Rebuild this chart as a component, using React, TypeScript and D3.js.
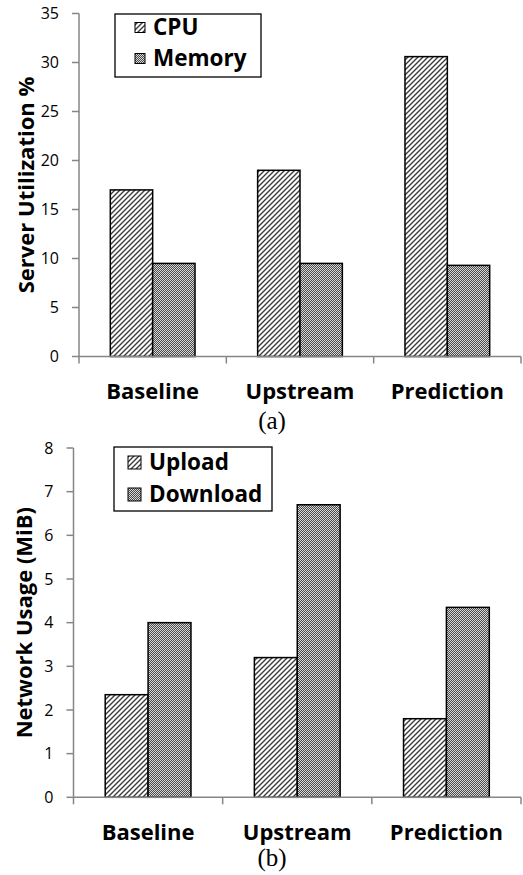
import React, { useEffect, useRef } from "react";
import * as d3 from "d3";

const categories = ["Baseline", "Upstream", "Prediction"];

// (a) server utilization
const cpu = [17, 19, 30.6];
const memory = [9.5, 9.5, 9.3];
const utilTicks = [0, 5, 10, 15, 20, 25, 30, 35];

// (b) network usage
const upload = [2.35, 3.2, 1.8];
const download = [4.0, 6.7, 4.35];
const netTicks = [0, 1, 2, 3, 4, 5, 6, 7, 8];

const width = 523;
const height = 875;
const font = "'Open Sans', sans-serif";
const axisGray = "#868686";

type Panel = {
  names: string[];
  series: number[][];
  ticks: number[];
  title: string;
  caption: string;
  x0: number;
  x1: number;
  yTop: number;
  yBottom: number;
  titleX: number;
  legend: { x: number; y: number; w: number; h: number; swatch: number; textX: number; rows: number[] };
  captionY: number;
};

const panels: Panel[] = [
  {
    names: ["CPU", "Memory"],
    series: [cpu, memory],
    ticks: utilTicks,
    title: "Server Utilization %",
    caption: "(a)",
    x0: 79,
    x1: 521,
    yTop: 13.5,
    yBottom: 356.5,
    titleX: 26,
    legend: { x: 115, y: 14, w: 146, h: 63, swatch: 10, textX: 153, rows: [35, 66] },
    captionY: 429,
  },
  {
    names: ["Upload", "Download"],
    series: [upload, download],
    ticks: netTicks,
    title: "Network Usage (MiB)",
    caption: "(b)",
    x0: 73.5,
    x1: 521,
    yTop: 448,
    yBottom: 797.3,
    titleX: 24,
    legend: { x: 114, y: 447, w: 158, h: 64, swatch: 13, textX: 149, rows: [470, 502] },
    captionY: 866,
  },
];

const fills = ["url(#stripes)", "url(#checker)"];

function drawPanel(svg: d3.Selection<SVGSVGElement, unknown, null, undefined>, p: Panel) {
  const yMax = p.ticks[p.ticks.length - 1];
  const y = d3.scaleLinear([0, yMax], [p.yBottom, p.yTop]);
  const x = d3
    .scaleBand<string>()
    .domain(categories)
    .range([p.x0, p.x1])
    .paddingInner(0.425)
    .paddingOuter(0.2125);
  const sub = d3
    .scaleBand<number>()
    .domain(p.series.map((_, i) => i))
    .range([0, x.bandwidth()]);

  const g = svg.append("g");

  // bars
  p.series.forEach((vals, si) => {
    g.append("g")
      .selectAll("rect")
      .data(vals)
      .join("rect")
      .attr("x", (_, i) => x(categories[i])! + sub(si)!)
      .attr("y", (d) => y(d))
      .attr("width", sub.bandwidth())
      .attr("height", (d) => y(0) - y(d))
      .attr("fill", fills[si])
      .attr("stroke", "#000")
      .attr("stroke-width", 1.5);
  });

  // y axis
  g.append("line")
    .attr("x1", p.x0)
    .attr("x2", p.x0)
    .attr("y1", y(yMax))
    .attr("y2", y(0))
    .attr("stroke", axisGray)
    .attr("stroke-width", 1.5);
  g.selectAll(".ytick")
    .data(p.ticks)
    .join("line")
    .attr("x1", p.x0 - 7)
    .attr("x2", p.x0)
    .attr("y1", (d) => y(d))
    .attr("y2", (d) => y(d))
    .attr("stroke", axisGray)
    .attr("stroke-width", 1.5);
  g.selectAll(".ylabel")
    .data(p.ticks)
    .join("text")
    .attr("x", p.x0 - 20)
    .attr("y", (d) => y(d))
    .attr("dy", "0.36em")
    .attr("text-anchor", "end")
    .attr("font-family", font)
    .attr("font-size", 16)
    .attr("fill", "#000")
    .text((d) => d);

  // x axis
  g.append("line")
    .attr("x1", p.x0)
    .attr("x2", p.x1)
    .attr("y1", y(0))
    .attr("y2", y(0))
    .attr("stroke", axisGray)
    .attr("stroke-width", 1.5);
  const bounds = [p.x0, ...categories.map((c) => x(c)! + x.bandwidth() / 2 + x.step() / 2)];
  g.selectAll(".xtick")
    .data(bounds)
    .join("line")
    .attr("x1", (d) => d)
    .attr("x2", (d) => d)
    .attr("y1", y(0))
    .attr("y2", y(0) + 7)
    .attr("stroke", axisGray)
    .attr("stroke-width", 1.5);
  g.selectAll(".xlabel")
    .data(categories)
    .join("text")
    .attr("x", (d) => x(d)! + x.bandwidth() / 2)
    .attr("y", y(0) + 42.5)
    .attr("text-anchor", "middle")
    .attr("font-family", font)
    .attr("font-weight", "bold")
    .attr("font-size", 22)
    .text((d) => d);

  // y title
  g.append("text")
    .attr("transform", `translate(${p.titleX},${(p.yTop + p.yBottom) / 2}) rotate(-90)`)
    .attr("dy", "0.36em")
    .attr("text-anchor", "middle")
    .attr("font-family", font)
    .attr("font-weight", "bold")
    .attr("font-size", 22)
    .text(p.title);

  // legend
  const L = p.legend;
  g.append("rect")
    .attr("x", L.x)
    .attr("y", L.y)
    .attr("width", L.w)
    .attr("height", L.h)
    .attr("fill", "#fff")
    .attr("stroke", "#000")
    .attr("stroke-width", 1.3);
  p.names.forEach((name, i) => {
    const by = L.rows[i];
    g.append("rect")
      .attr("x", L.textX - 8 - L.swatch)
      .attr("y", by - 7.5 - L.swatch / 2)
      .attr("width", L.swatch)
      .attr("height", L.swatch)
      .attr("fill", fills[i])
      .attr("stroke", "#000")
      .attr("stroke-width", 1);
    g.append("text")
      .attr("x", L.textX)
      .attr("y", by)
      .attr("font-family", font)
      .attr("font-weight", "bold")
      .attr("font-size", 22.5)
      .text(name);
  });

  // caption
  g.append("text")
    .attr("x", 272)
    .attr("y", p.captionY)
    .attr("text-anchor", "middle")
    .attr("font-family", "'Liberation Serif', serif")
    .attr("font-size", 25)
    .text(p.caption);
}

export default function App() {
  const ref = useRef<SVGSVGElement>(null);

  useEffect(() => {
    const svg = d3.select(ref.current!);
    svg.selectAll("*").remove();

    const defs = svg.append("defs");
    const stripes = defs
      .append("pattern")
      .attr("id", "stripes")
      .attr("patternUnits", "userSpaceOnUse")
      .attr("width", 5)
      .attr("height", 5);
    stripes.append("rect").attr("width", 5).attr("height", 5).attr("fill", "#fff");
    stripes
      .append("path")
      .attr("d", "M0,5 L5,0 M-1,1 L1,-1 M4,6 L6,4")
      .attr("stroke", "#3c3c3c")
      .attr("stroke-width", 1.4);

    const checker = defs
      .append("pattern")
      .attr("id", "checker")
      .attr("patternUnits", "userSpaceOnUse")
      .attr("width", 2)
      .attr("height", 2);
    checker.append("rect").attr("width", 2).attr("height", 2).attr("fill", "#4a4a4a");
    checker.append("rect").attr("width", 1).attr("height", 1).attr("fill", "#d8d8d8");
    checker.append("rect").attr("x", 1).attr("y", 1).attr("width", 1).attr("height", 1).attr("fill", "#d8d8d8");

    panels.forEach((p) => drawPanel(svg, p));
  }, []);

  return (
    <svg
      ref={ref}
      width={width}
      height={height}
      style={{ position: "absolute", left: 0, top: 0, background: "#fff" }}
    />
  );
}
